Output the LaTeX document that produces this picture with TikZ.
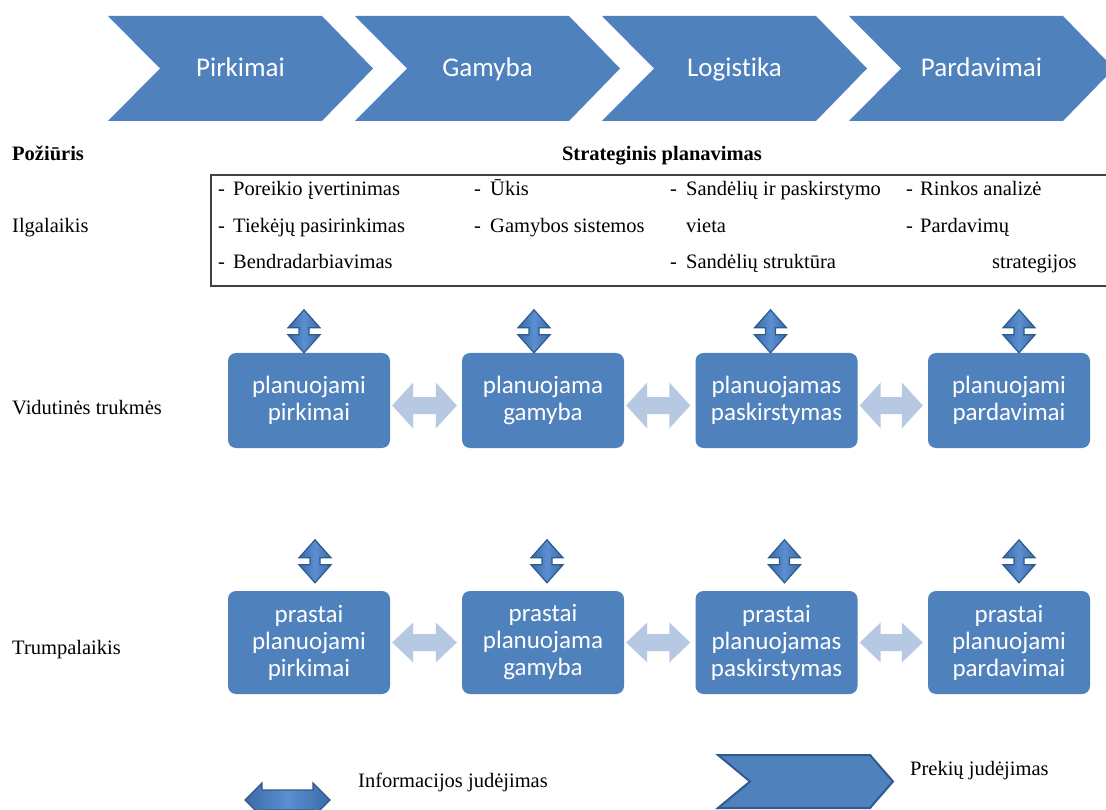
\documentclass[tikz,border=0pt]{standalone}
\usepackage{fontspec}
\setmainfont{Liberation Serif}
\newfontfamily\calfont[Ligatures=NoCommon]{Carlito}
\usetikzlibrary{calc}
\definecolor{mainblue}{HTML}{4F81BD}
\definecolor{lightblue}{HTML}{B7C8E3}
\definecolor{darkedge}{HTML}{2E5A8E}
\definecolor{shadeedge}{HTML}{3A6BA6}
\definecolor{shademid}{HTML}{5B8FD1}
\definecolor{tabline}{HTML}{404040}
\tikzset{
  chev/.style={fill=mainblue},
  chevtext/.style={text=white, anchor=base, inner sep=0pt, font=\calfont\fontsize{27}{32}\selectfont},
  pbox/.style={fill=mainblue, rounded corners=8pt, minimum width=162pt, text width=160pt,
    align=center, text=white, inner sep=0pt, font=\calfont\fontsize{25}{27}\selectfont},
  lbl/.style={anchor=base west, inner sep=0pt, font=\fontsize{20.5}{24}\selectfont},
  hdr/.style={anchor=base west, inner sep=0pt, font=\bfseries\fontsize{20.5}{24}\selectfont},
  infoarrow/.style={fill=lightblue},
  darrow/.style={draw=darkedge, line width=1.2pt, left color=shadeedge, right color=shadeedge, middle color=shademid},
  legchev/.style={fill=mainblue, draw=darkedge, line width=2pt, line join=miter},
  tabrule/.style={draw=tabline, line width=1.5pt}
}
% light horizontal double arrow between two boxes: from, to, dy, head half height
\newcommand\myhlink[4]{%
  \fill[infoarrow] ($(#1.east)+(2,#3)$) -- ($(#1.east)+(23,#3-#4)$) -- ($(#1.east)+(23,#3-8.5)$)
    -- ($(#2.west)+(-26,#3-8.5)$) -- ($(#2.west)+(-26,#3-#4)$) -- ($(#2.west)+(-5,#3)$)
    -- ($(#2.west)+(-26,#3+#4)$) -- ($(#2.west)+(-26,#3+8.5)$) -- ($(#1.east)+(23,#3+8.5)$)
    -- ($(#1.east)+(23,#3+#4)$) -- cycle;}
% dark vertical double arrow above a box: node, dx, gap
\newcommand\myvlink[3]{%
  \coordinate (#1tip) at ($(#1.north)+(#2,-#3)$);
  \path[darrow] (#1tip) -- ++(16,-18) -- ++(-11,0) -- ++(0,-7) -- ++(11,0) -- ++(-16,-18)
    -- ++(-16,18) -- ++(11,0) -- ++(0,7) -- ++(-11,0) -- cycle;}
\begin{document}
\begin{tikzpicture}[x=1pt,y=-1pt]
\clip (0,0) rectangle (1106,810);
\fill[white] (0,0) rectangle (1106,810);
% process chevrons
\foreach \x/\t/\n in {108/Pirkimai/c1, 355/Gamyba/c2, 602/Logistika/c3, 849/Pardavimai/c4}{
  \fill[chev] (\x,16) -- (\x+214,16) -- (\x+265,68.5) -- (\x+214,121) -- (\x,121) -- (\x+52,68.5) -- cycle;
  \node[chevtext] (\n) at (\x+132.5,77) {\t};
}
% headings
\node[hdr] (pozi) at (12,161) {Požiūris};
\node[hdr, anchor=base] (strat) at (662,161) {Strateginis planavimas};
% table
\draw[tabrule] (1106,175) -- (211,175) -- (211,286) -- (1106,286);
\node[lbl] (d11) at (218,196) {-};
\node[lbl] (t11) at (233,196) {Poreikio įvertinimas};
\node[lbl] (d12) at (218,233) {-};
\node[lbl] (t12) at (233,233) {Tiekėjų pasirinkimas};
\node[lbl] (d13) at (218,269) {-};
\node[lbl] (t13) at (233,269) {Bendradarbiavimas};
\node[lbl] (d21) at (474,196) {-};
\node[lbl] (t21) at (490,196) {Ūkis};
\node[lbl] (d22) at (474,233) {-};
\node[lbl] (t22) at (490,233) {Gamybos sistemos};
\node[lbl] (d31) at (670,196) {-};
\node[lbl] (t31) at (686,196) {Sandėlių ir paskirstymo};
\node[lbl] (t32) at (686,233) {vieta};
\node[lbl] (d33) at (670,269) {-};
\node[lbl] (t33) at (686,269) {Sandėlių struktūra};
\node[lbl] (d41) at (906,196) {-};
\node[lbl] (t41) at (920,196) {Rinkos analizė};
\node[lbl] (d42) at (906,233) {-};
\node[lbl] (t42) at (920,233) {Pardavimų};
\node[lbl] (t43) at (992,269) {strategijos};
% row labels
\node[lbl] (ilg) at (12,233) {Ilgalaikis};
\node[lbl] (vid) at (12,414) {Vidutinės trukmės};
\node[lbl] (tru) at (12,654) {Trumpalaikis};
% medium-term boxes
\node[pbox, minimum height=95pt] (m1) at (309,400.5) {planuojami\\pirkimai};
\node[pbox, minimum height=95pt] (m2) at (543,400.5) {planuojama\\gamyba};
\node[pbox, minimum height=95pt] (m3) at (776.5,400.5) {planuojamas\\paskirstymas};
\node[pbox, minimum height=95pt] (m4) at (1009,400.5) {planuojami\\pardavimai};
% short-term boxes
\node[pbox, minimum height=103pt] (s1) at (309,642.5) {prastai\\planuojami\\pirkimai};
\node[pbox, minimum height=103pt] (s2) at (543,642.5) {prastai\\planuojama\\gamyba};
\node[pbox, minimum height=103pt] (s3) at (776.5,642.5) {prastai\\planuojamas\\paskirstymas};
\node[pbox, minimum height=103pt] (s4) at (1009,642.5) {prastai\\planuojami\\pardavimai};
% horizontal info arrows
\myhlink{m1}{m2}{5}{23}
\myhlink{m2}{m3}{5}{23}
\myhlink{m3}{m4}{5}{23}
\myhlink{s1}{s2}{0}{20}
\myhlink{s2}{s3}{0}{20}
\myhlink{s3}{s4}{0}{20}
% vertical arrows
\myvlink{m1}{-5}{0}
\myvlink{m2}{-9}{0}
\myvlink{m3}{-6}{0}
\myvlink{m4}{10}{0}
\myvlink{s1}{6}{8}
\myvlink{s2}{4}{8}
\myvlink{s3}{8}{8}
\myvlink{s4}{10}{8}
% legend
\path[darrow] (245,800) -- (262,783) -- (262,790) -- (313,790) -- (313,783) -- (330,800)
  -- (313,817) -- (313,810) -- (262,810) -- (262,817) -- cycle;
\node[lbl] (leginfo) at (358,787) {Informacijos judėjimas};
\path[legchev] (718,755) -- (870,755) -- (893,781.5) -- (870,808) -- (718,808) -- (750,781.5) -- cycle;
\node[lbl] (legprek) at (910,775) {Prekių judėjimas};
\end{tikzpicture}
\end{document}
